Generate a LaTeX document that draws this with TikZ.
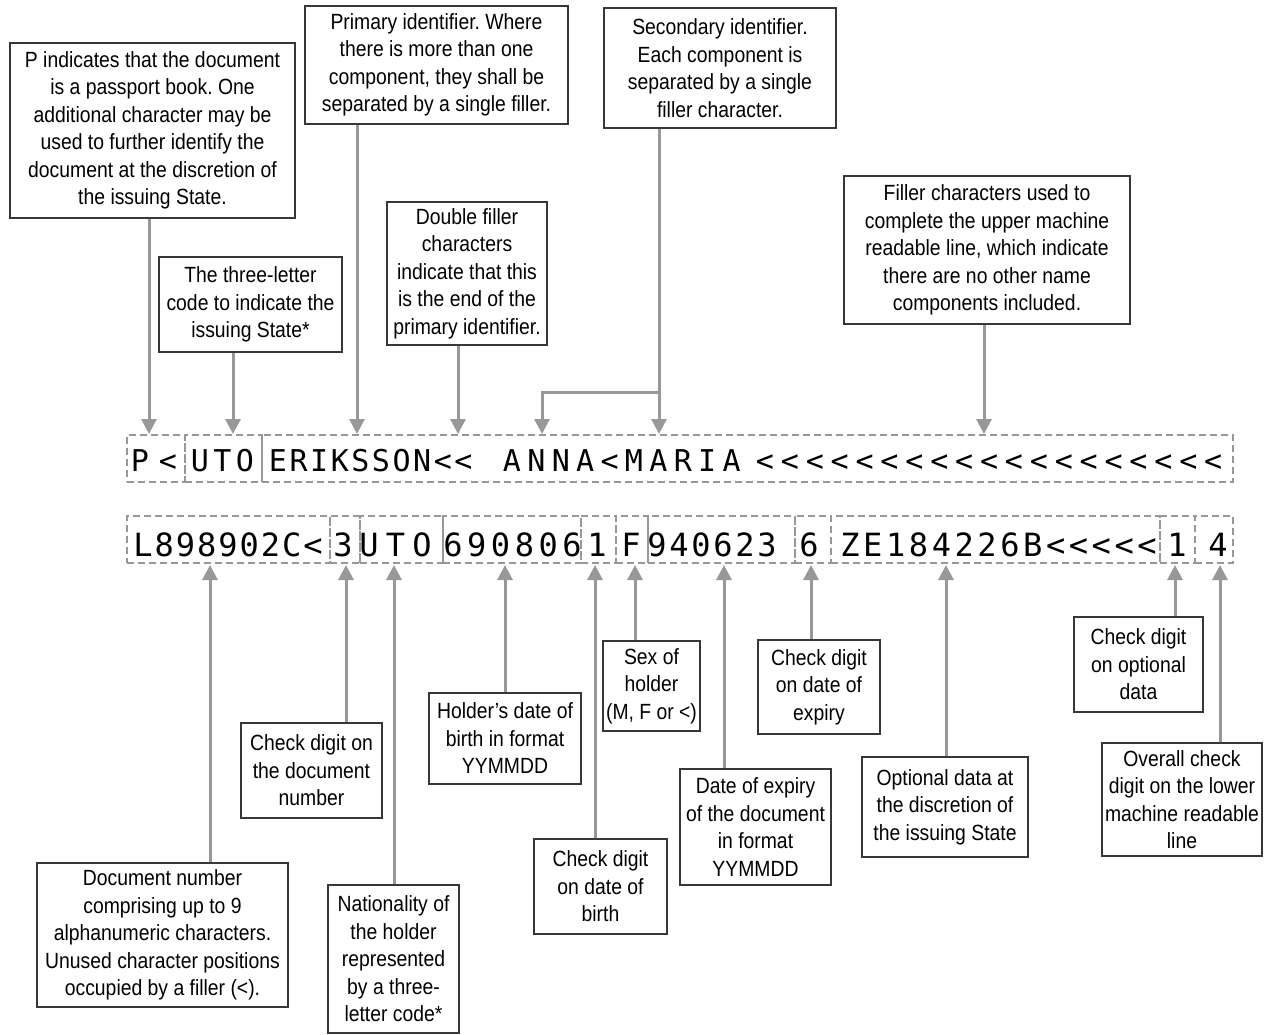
\documentclass[tikz,border=0pt]{standalone}
\usepackage{fontspec}
\setmainfont{Liberation Sans}[FakeStretch=0.88]
\newfontfamily\mrzfont{DejaVu Sans Mono}
\usetikzlibrary{arrows.meta}
\frenchspacing

\definecolor{arrowgray}{RGB}{152,152,152}
\definecolor{boxgray}{RGB}{55,55,55}

\tikzset{
  lbl/.style={draw=boxgray, line width=0.6pt, align=center, inner xsep=1pt, inner ysep=2pt,
    font=\fontsize{11}{13.75}\selectfont},
  field/.style={draw=arrowgray, line width=1pt, dash pattern=on 3.5pt off 2pt,
    minimum height=23.5pt, inner sep=0pt},
  chrup/.style={anchor=base, inner sep=0pt, font=\mrzfont\fontsize{15}{18}\selectfont},
  chrlow/.style={anchor=base, inner sep=0pt, font=\mrzfont\fontsize{16}{19}\selectfont},
  pointer/.style={draw=arrowgray, line width=1.5pt, -{Triangle[length=7.5pt,width=7.5pt]}}
}

\begin{document}
\begin{tikzpicture}[x=0.5pt, y=-0.5pt]
  \useasboundingbox (0,0) rectangle (1268,1034);

  % upper labels
  \node[lbl, minimum width=142.5pt, minimum height=87.5pt] (lblPass) at (152.5,130.5)
    {P indicates that the document\\is a passport book. One\\additional character may be\\used to further identify the\\document at the discretion of\\the issuing State.};
  \node[lbl, minimum width=91.5pt, minimum height=47.5pt] (lblState) at (250.5,304.5)
    {The three-letter\\code to indicate the\\issuing State*};
  \node[lbl, minimum width=131.5pt, minimum height=59pt] (lblPrim) at (436.5,65)
    {Primary identifier. Where\\there is more than one\\component, they shall be\\separated by a single filler.};
  \node[lbl, minimum width=80pt, minimum height=71.5pt] (lblDouble) at (467,273.5)
    {Double filler\\characters\\indicate that this\\is the end of the\\primary identifier.};
  \node[lbl, minimum width=116pt, minimum height=60pt] (lblSec) at (720,68)
    {Secondary identifier.\\Each component is\\separated by a single\\filler character.};
  \node[lbl, minimum width=143pt, minimum height=74pt] (lblFill) at (987,250)
    {Filler characters used to\\complete the upper machine\\readable line, which indicate\\there are no other name\\components included.};

  % lower labels
  \node[lbl, minimum width=125.5pt, minimum height=72pt] (lblDoc) at (162.5,935)
    {Document number\\comprising up to 9\\alphanumeric characters.\\Unused character positions\\occupied by a filler (<).};
  \node[lbl, minimum width=70.5pt, minimum height=47.5pt] (lblChkDoc) at (311.5,770.5)
    {Check digit on\\the document\\number};
  \node[lbl, minimum width=65.5pt, minimum height=74pt] (lblNat) at (393.5,959)
    {Nationality of\\the holder\\represented\\by a three-\\letter code*};
  \node[lbl, minimum width=76pt, minimum height=45.5pt] (lblDOB) at (505,738.5)
    {Holder’s date of\\birth in format\\YYMMDD};
  \node[lbl, minimum width=66.5pt, minimum height=47.5pt] (lblChkDOB) at (600.5,886.5)
    {Check digit\\on date of\\birth};
  \node[lbl, minimum width=48.5pt, minimum height=45pt] (lblSex) at (651.5,686)
    {Sex of\\holder\\(M, F or <)};
  \node[lbl, minimum width=61pt, minimum height=47pt] (lblChkExp) at (819,687)
    {Check digit\\on date of\\expiry};
  \node[lbl, minimum width=75.5pt, minimum height=58pt] (lblExp) at (755.5,827)
    {Date of expiry\\of the document\\in format\\YYMMDD};
  \node[lbl, minimum width=83pt, minimum height=50pt] (lblOpt) at (945,807)
    {Optional data at\\the discretion of\\the issuing State};
  \node[lbl, minimum width=64.5pt, minimum height=47.5pt] (lblChkOpt) at (1138.5,664.5)
    {Check digit\\on optional\\data};
  \node[lbl, minimum width=80pt, minimum height=56.5pt] (lblAll) at (1182,799.5)
    {Overall check\\digit on the lower\\machine readable\\line};

  % machine readable zone
  \foreach \a/\b/\n in {127/185/fP, 185/262/fState, 262/1233/fName}
    \node[field, minimum width={(\b-\a)*0.5pt}] (\n) at ({(\a+\b)/2},458.5) {};
  \foreach \a/\b/\n in {127/330/fDoc, 330/360/fChkDoc, 360/443/fNat, 443/581/fDOB,
      581/616/fChkDOB, 616/648/fSex, 648/795/fExp, 795/831/fChkExp, 831/1160/fOpt,
      1160/1195/fChkOpt, 1195/1233/fAll}
    \node[field, minimum width={(\b-\a)*0.5pt}] (\n) at ({(\a+\b)/2},539.5) {};

  \foreach \x/\d/\s/\k in {140/28/{P,<}/a, 200/22.5/{U,T,O}/b,
      278/20.6/{E,R,I,K,S,S,O,N,<,<}/c, 512/24.4/{A,N,N,A,<,M,A,R,I,A}/d,
      765/24.9/{<,<,<,<,<,<,<,<,<,<,<,<,<,<,<,<,<,<,<}/e}
    \foreach \c [count=\i from 0] in \s
      \node[chrup] (up\k\i) at (\x+\d*\i,471) {\c};
  \foreach \x/\d/\s/\k in {143/21.25/{L,8,9,8,9,0,2,C,<}/a, 343/0/{3}/b,
      369/26.5/{U,T,O}/c, 453/23.8/{6,9,0,8,0,6}/d, 597/0/{1}/e, 631/0/{F}/f,
      657/22/{9,4,0,6,2,3}/g, 809/0/{6}/h,
      850/22.85/{Z,E,1,8,4,2,2,6,B,<,<,<,<,<}/i, 1177/0/{1}/j, 1218/0/{4}/k}
    \foreach \c [count=\i from 0] in \s
      \node[chrlow] (low\k\i) at (\x+\d*\i,556) {\c};

  % connectors
  \foreach \n/\x in {Pass/149, State/233, Prim/357, Double/458, Fill/984} {
    \coordinate (t\n) at (\x,434);
    \draw[pointer] (lbl\n.south -| t\n) -- (t\n);
  }
  \coordinate (tSecA) at (542,434);
  \coordinate (tSecB) at (659,434);
  \coordinate (kSec) at (659,392);
  \draw[pointer] (lblSec.south -| tSecB) -- (tSecB);
  \draw[pointer] (kSec) -| (tSecA);

  \foreach \n/\x in {Doc/210, ChkDoc/346, Nat/394, DOB/505, ChkDOB/595, Sex/635,
      Exp/724, ChkExp/811, Opt/946, ChkOpt/1175, All/1220} {
    \coordinate (b\n) at (\x,565);
    \draw[pointer] (lbl\n.north -| b\n) -- (b\n);
  }
\end{tikzpicture}
\end{document}
